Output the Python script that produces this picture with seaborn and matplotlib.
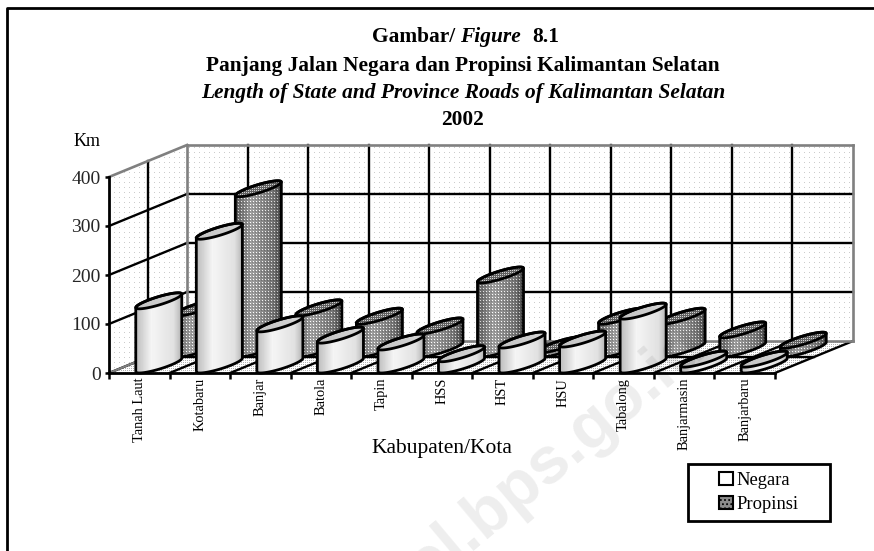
# grafik silinder 3D panjang jalan Kalimantan Selatan
import numpy as np
import pandas as pd
import seaborn as sns
import matplotlib.pyplot as plt
from matplotlib.lines import Line2D
from matplotlib.path import Path
from matplotlib.patches import PathPatch, Patch, Rectangle
from matplotlib.transforms import Affine2D, IdentityTransform

# =========================
# Data
# =========================
kabupaten = ["Tanah Laut", "Kotabaru", "Banjar", "Batola", "Tapin", "HSS", "HST",
             "HSU", "Tabalong", "Banjarmasin", "Banjarbaru"]
negara = [131, 273, 84, 61, 47, 23, 51, 53, 110, 12, 12]
propinsi = [84, 327, 84, 67, 47, 151, 9, 67, 67, 39, 18]
y_ticks = [0, 100, 200, 300, 400]

df = pd.DataFrame({
    "kabupaten": kabupaten * 2,
    "km": negara + propinsi,
    "jenis": ["Negara"] * len(kabupaten) + ["Propinsi"] * len(kabupaten),
})

# =========================
# Figure
# =========================
W, H = 874, 551
DEPTH_X, DEPTH_Y = 78, 32   # pergeseran kedalaman dalam piksel
sns.set_theme(style="white")
plt.rcParams["font.family"] = ["Liberation Serif", "DejaVu Serif"]
plt.rcParams["hatch.linewidth"] = 0.8

fig = plt.figure(figsize=(W / 100, H / 100), dpi=100)
ax = fig.add_axes([109 / W, (H - 373) / H, 666 / W, 196 / H])
ID = IdentityTransform()

sns.barplot(data=df, x="kabupaten", y="km", hue="jenis", dodge=False, width=0.76,
            errorbar=None, legend=False, saturation=1,
            palette={"Negara": "#e6e6e6", "Propinsi": "#8c8c8c"}, ax=ax)
ax.set_xlim(-0.5, len(kabupaten) - 0.5)
ax.set_ylim(0, 400)
ax.set_autoscale_on(False)


def d(x, y, depth=0.0):
    # posisi layar dari koordinat data + kedalaman (0..1)
    px, py = ax.transData.transform((x, y))
    return px + depth * DEPTH_X, py + depth * DEPTH_Y


def garis(p, q, color="black", lw=1.7, z=2):
    ax.add_line(Line2D([p[0], q[0]], [p[1], q[1]], color=color, lw=lw, transform=ID,
                       clip_on=False, zorder=z, solid_capstyle="projecting"))


def tekstur(arr, x0, y0, clip, z):
    h, w = arr.shape
    im = ax.imshow(arr, extent=(x0, x0 + w, y0, y0 + h), origin="lower", cmap="gray",
                   vmin=0, vmax=1, interpolation="nearest", aspect="auto",
                   transform=ID, zorder=z)
    im.set_clip_box(fig.bbox)
    im.set_clip_path(clip, ID)
    return im


def bintik(w, h, step, base, dot):
    arr = np.full((h, w), float(base))
    arr[::step, ::step] = dot
    return arr


# =========================
# Dinding dan lantai
# =========================
xa, xb = -0.5, len(kabupaten) - 0.5
back = [d(xa, 0, 1), d(xb, 0, 1), d(xb, 400, 1), d(xa, 400, 1)]
left = [d(xa, 0, 0), d(xa, 0, 1), d(xa, 400, 1), d(xa, 400, 0)]
floor = [d(xa, 0, 0), d(xb, 0, 0), d(xb, 0, 1), d(xa, 0, 1)]
ox, oy = int(d(xa, 0)[0]), int(d(xa, 0)[1])
tekstur(bintik(760, 240, 5, 1.0, 0.8), ox, oy, Path(back + [back[0]]), 1)
tekstur(bintik(760, 240, 5, 1.0, 0.8), ox, oy, Path(left + [left[0]]), 1)
tekstur(bintik(760, 40, 2, 1.0, 0.7), ox, oy, Path(floor + [floor[0]]), 1)

for v in y_ticks[1:-1]:
    garis(d(xa, v, 0), d(xa, v, 1))
    garis(d(xa, v, 1), d(xb, v, 1))
for k in range(len(kabupaten) + 1):
    garis(d(xa + k, 0, 0), d(xa + k, 0, 1))
    if 0 < k < len(kabupaten):
        garis(d(xa + k, 0, 1), d(xa + k, 400, 1))
garis(d(xa, 0, 0.5), d(xa, 400, 0.5))
garis(d(xa, 0, 0.5), d(xb, 0, 0.5))
abu = "#808080"
garis(d(xa, 0, 1), d(xb, 0, 1), abu, 1.9)
garis(d(xa, 400, 0), d(xa, 400, 1), abu, 1.9)
garis(d(xa, 400, 1), d(xb, 400, 1), abu, 1.9)
garis(d(xb, 400, 1), d(xb, 0, 1), abu, 1.9)
garis(d(xa, 400, 1), d(xa, 0, 1), abu, 1.9)
garis(d(xa, 0, 0), d(xa, 0, 1), abu, 1.5)

# =========================
# Silinder dari batang seaborn
# =========================
Vx, Vy = 0.25 * DEPTH_X, 0.25 * DEPTH_Y
pos_x = [0, 0.35, 0.8, 1]


def silinder(bar, depth, z, rear):
    x0, w, tinggi = bar.get_x(), bar.get_width(), bar.get_height()
    offx, offy = depth * DEPTH_X, depth * DEPTH_Y
    lx, by = ax.transData.transform((x0, 0))
    rx, ty = ax.transData.transform((x0 + w, tinggi))
    cx, by, ty = (lx + rx) / 2 + offx, by + offy, ty + offy
    U = np.sqrt(((rx - lx) / 2) ** 2 - Vx ** 2)
    tr = np.arctan2(Vx, U)
    tl = tr + np.pi

    def arc(t, cy):
        return np.column_stack([cx + U * np.cos(t) + Vx * np.sin(t), cy + Vy * np.sin(t)])

    bawah = arc(np.linspace(tl, tr + 2 * np.pi, 60), by)
    atas = arc(np.linspace(tr, tl, 60), ty)
    sisi = Path(np.vstack([bawah, atas, bawah[:1]]))
    elips = Path(arc(np.linspace(0, 2 * np.pi, 120), ty))

    # batang asli ikut digeser ke baris kedalamannya
    bar.set_transform(ax.transData + Affine2D().translate(offx, offy))
    bar.set_clip_box(fig.bbox)
    bar.set_clip_path(sisi, ID)
    bar.set_zorder(z)

    x1, y1 = int(cx - (rx - lx) / 2) - 1, int(by - Vy) - 2
    nx, ny = int(rx - lx) + 4, int(ty - by + 2 * Vy) + 5
    u = np.linspace(0, 1, nx)
    if rear:
        prof = np.interp(u, pos_x, [0.35, 0.62, 0.45, 0.22])
        arr = np.tile(prof, (ny, 1))
        arr[1::3, 1::3] += 0.42
        arr[::3, ::3] -= 0.1
        arr = np.clip(arr, 0, 1)
        atas_arr = np.full((ny, nx), 0.38)
        atas_arr[::2, ::2] = 0.82
    else:
        prof = np.interp(u, pos_x, [0.72, 0.96, 0.88, 0.66])
        arr = np.tile(prof, (ny, 1))
        atas_arr = np.tile(np.interp(u, [0, 1], [0.76, 0.84]), (ny, 1))
    tekstur(arr, x1, y1, sisi, z + 0.1)
    tekstur(atas_arr, x1, y1, elips, z + 0.2)
    ax.add_patch(PathPatch(sisi, fc="none", ec="black", lw=2.0, transform=ID,
                           clip_on=False, zorder=z + 0.3))
    ax.add_patch(PathPatch(elips, fc="none", ec="black", lw=2.0, transform=ID,
                           clip_on=False, zorder=z + 0.3))


for bar in ax.containers[1]:
    silinder(bar, 0.75, 6, True)
for bar in ax.containers[0]:
    silinder(bar, 0.25, 8, False)

# =========================
# Sumbu
# =========================
for s in ["top", "right"]:
    ax.spines[s].set_visible(False)
for s in ["left", "bottom"]:
    ax.spines[s].set_color("black")
    ax.spines[s].set_linewidth(2.0)
    ax.spines[s].set_zorder(20)
ax.patch.set_visible(False)
ax.set_yticks(y_ticks)
ax.tick_params(axis="y", length=3, width=1.8, color="black", labelsize=14, pad=3, left=True)
ax.set_xticks(range(len(kabupaten)))
ax.set_xticklabels(kabupaten, rotation=90, fontsize=10.4)
ax.tick_params(axis="x", which="major", length=0, pad=3.5, labelcolor="black")
ax.set_xticks(np.arange(len(kabupaten) + 1) - 0.5, minor=True)
ax.tick_params(axis="x", which="minor", length=4.5, width=1.8, color="black", bottom=True)
ax.set_axisbelow(False)
ax.set_xlabel("Kabupaten/Kota", fontsize=15.5, color="black", va="center")
ax.xaxis.set_label_coords(0.5, -(448 - 373) / 196)
ax.set_ylabel("Km", fontsize=13, rotation=0, color="black", va="center", ha="center")
ax.yaxis.set_label_coords((87 - 109) / 666, (373 - 142) / 196)

# =========================
# Judul
# =========================
def teks(x, y, s, **kw):
    fig.text(x / W, 1 - y / H, s, fontsize=15.4, color="black", va="center", **kw)


teks(372, 37, "Gambar/", fontweight="bold")
teks(460, 37, "Figure", fontweight="bold", fontstyle="italic")
teks(532, 37, "8.1", fontweight="bold")
teks(463, 66, "Panjang Jalan Negara dan Propinsi Kalimantan Selatan", fontweight="bold", ha="center")
teks(463, 93, "Length of State and Province Roads of Kalimantan Selatan", fontweight="bold",
     fontstyle="italic", ha="center")
teks(463, 120, "2002", fontweight="bold", ha="center")

# =========================
# Legenda dan bingkai
# =========================
fig.add_artist(Rectangle((688 / W, 1 - 521 / H), 142 / W, 57 / H, transform=fig.transFigure,
                         fc="white", ec="black", lw=2.0, zorder=4))
handles = [Patch(fc="white", ec="black", lw=1.5, label="Negara"),
           Patch(fc="#8c8c8c", ec="black", lw=1.5, hatch="....", label="Propinsi")]
leg = fig.legend(handles=handles, loc="center", bbox_to_anchor=(759 / W, 1 - 492.5 / H),
                 frameon=False, fontsize=13.3, handlelength=0.76, handletextpad=0.2,
                 labelspacing=0.42, borderpad=0, labelcolor="black")
leg.set_zorder(5)

fig.add_artist(Line2D([7 / W, 7 / W, 1], [0, 1 - 8 / H, 1 - 8 / H], color="black", lw=2.0,
                      transform=fig.transFigure))

# watermark
fig.text(508 / W, 1 - 496 / H, "kalsel.bps.go.id", fontsize=47.5, color="black", alpha=0.07,
         family="Liberation Sans", fontweight="bold", rotation=40, rotation_mode="anchor",
         ha="center", va="center", zorder=30)

fig.savefig("out.png", dpi=100)
